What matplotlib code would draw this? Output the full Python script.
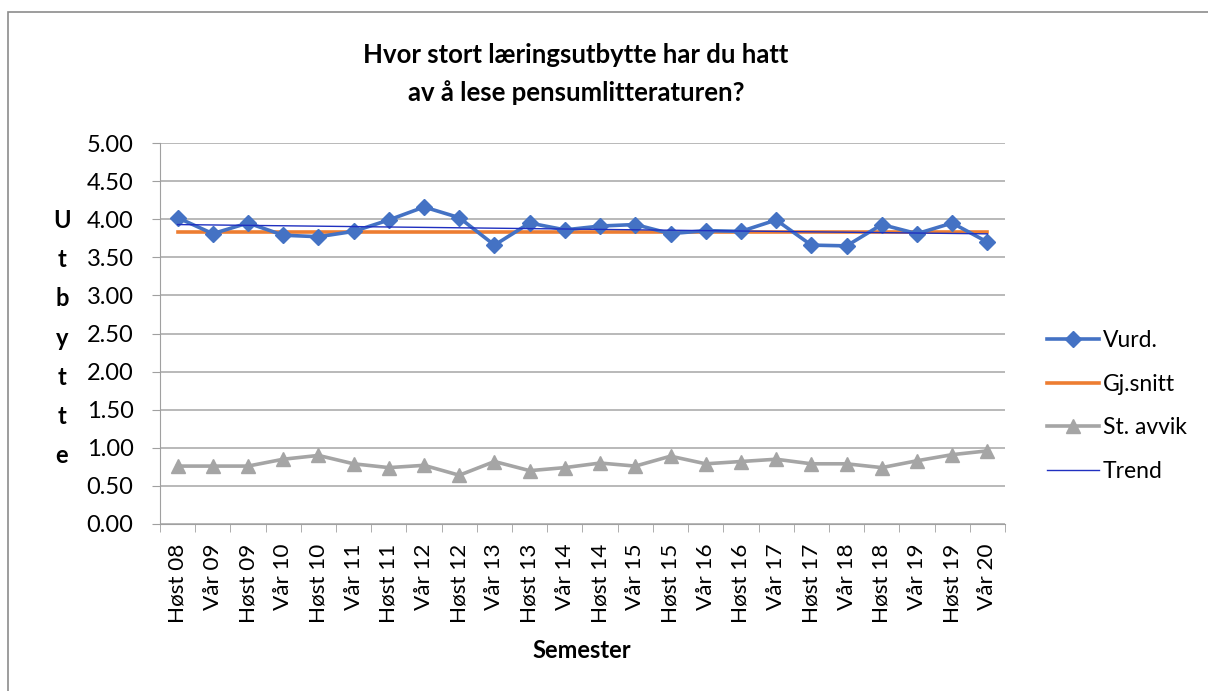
import numpy as np
import matplotlib.pyplot as plt
from matplotlib.patches import Rectangle

plt.rcParams['font.family'] = ['Lato', 'DejaVu Sans']

semestre = ["Høst 08", "Vår 09", "Høst 09", "Vår 10", "Høst 10", "Vår 11",
            "Høst 11", "Vår 12", "Høst 12", "Vår 13", "Høst 13", "Vår 14",
            "Høst 14", "Vår 15", "Høst 15", "Vår 16", "Høst 16", "Vår 17",
            "Høst 17", "Vår 18", "Høst 18", "Vår 19", "Høst 19", "Vår 20"]
vurd = [4.02, 3.81, 3.95, 3.79, 3.77, 3.84, 3.99, 4.16, 4.02, 3.66, 3.95, 3.86,
        3.91, 3.93, 3.81, 3.85, 3.84, 3.99, 3.66, 3.65, 3.93, 3.81, 3.95, 3.70]
gj_snitt = [3.83] * 24
st_avvik = [0.76, 0.76, 0.76, 0.85, 0.90, 0.79, 0.74, 0.77, 0.64, 0.82, 0.70, 0.74,
            0.80, 0.76, 0.89, 0.79, 0.82, 0.85, 0.79, 0.79, 0.74, 0.83, 0.91, 0.96]

x = np.arange(len(semestre))
# lineaer trendlinje for vurderingen
k, m = np.polyfit(x, vurd, 1)
trend = k * x + m

fig = plt.figure(figsize=(12.08, 6.91), dpi=100)
ax = fig.add_axes([160 / 1208, 1 - 524 / 691, 845 / 1208, 381 / 691])

# ramme rundt hele diagrammet
fig.patches.append(Rectangle((8 / 1208, -0.1), 1.2, 1 - 12 / 691 + 0.1,
                             transform=fig.transFigure, fill=False,
                             edgecolor='#8c8c8c', linewidth=1.2))

ax.plot(x, vurd, color='#4472C4', linewidth=2.6, marker='D', markersize=8.5,
        label='Vurd.', zorder=4)
ax.plot(x, gj_snitt, color='#ED7D31', linewidth=2.6, label='Gj.snitt', zorder=3)
ax.plot(x, st_avvik, color='#A5A5A5', linewidth=2.6, marker='^', markersize=10.5,
        label='St. avvik', zorder=4)
ax.plot(x, trend, color='#2030C0', linewidth=1.0, label='Trend', zorder=5)

ax.set_xlim(-0.5, len(semestre) - 0.5)
ax.set_ylim(0, 5)
ax.set_yticks(np.arange(0, 5.01, 0.5))
ax.set_yticklabels([f"{v:.2f}" for v in np.arange(0, 5.01, 0.5)])
ax.set_xticks(x)
ax.set_xticklabels(semestre, rotation=90)
ax.set_xticks(np.arange(-0.5, len(semestre)), minor=True)
ax.tick_params(axis='x', which='major', length=0, pad=14, labelsize=16.2)
ax.tick_params(axis='x', which='minor', length=6, color='#a0a0a0')
ax.tick_params(axis='y', length=6, color='#a0a0a0', pad=13, labelsize=17)

ax.grid(axis='y', color='#ADADAD', linewidth=1.2)
ax.set_axisbelow(True)
for s in ['top', 'right']:
    ax.spines[s].set_visible(False)
ax.spines['left'].set_color('#a0a0a0')
ax.spines['bottom'].set_color('#a0a0a0')

fig.text(576 / 1208, 1 - 74 / 691,
         "Hvor stort læringsutbytte har du hatt\nav å lese pensumlitteraturen?",
         ha='center', va='center', fontsize=18.5, fontweight='bold',
         linespacing=1.6)
fig.text(582 / 1208, 1 - 650 / 691, "Semester", ha='center', va='center',
         fontsize=17, fontweight='bold')
fig.text(62 / 1208, 1 - 338 / 691, "\n".join("Utbytte"), ha='center',
         va='center', fontsize=17, fontweight='bold', linespacing=1.85)

fig.legend(loc='center left', bbox_to_anchor=(1026 / 1208, 1 - 406 / 691),
           frameon=False, fontsize=16.5, handlelength=2.3, labelspacing=1.0,
           handletextpad=0.15)

fig.savefig("out.png", dpi=100)
